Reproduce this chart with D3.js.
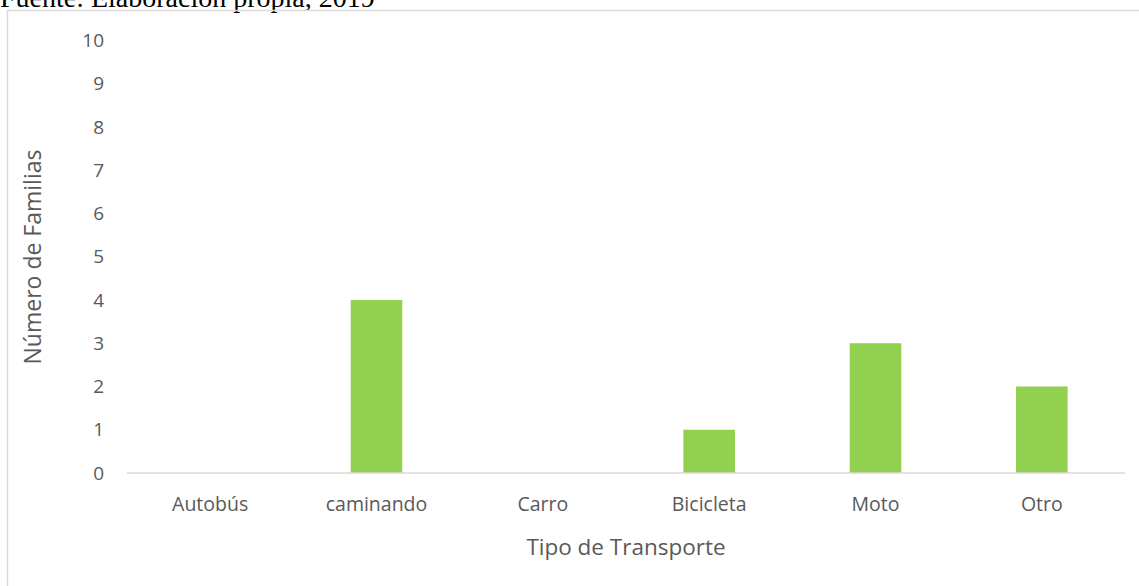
<!DOCTYPE html>
<html>
<head>
<meta charset="utf-8">
<script src="https://cdn.jsdelivr.net/npm/d3@7"></script>
<style>
  body { margin: 0; background: #fff; }
  svg { display: block; }
</style>
</head>
<body>
<svg id="chart"></svg>
<script>
// data
const categories = ["Autobús", "caminando", "Carro", "Bicicleta", "Moto", "Otro"];
const familias = [0, 4, 0, 1, 3, 2];
const yTicks = [0, 1, 2, 3, 4, 5, 6, 7, 8, 9, 10];

const W = 1139, H = 586;
const margin = {top: 40.5, right: 14, bottom: 113, left: 127};

const svg = d3.select("#chart").attr("width", W).attr("height", H);

// caption above the chart frame (cut off at top like the source)
svg.append("text")
    .attr("x", 0).attr("y", 7)
    .style("font-family", "'Liberation Serif', 'Times New Roman', serif")
    .style("font-size", "28px")
    .attr("fill", "#000")
    .text("Fuente: Elaboración propia, 2019");

// chart frame
svg.append("rect")
    .attr("x", 7.5).attr("y", 10.5)
    .attr("width", W).attr("height", H)
    .attr("fill", "none")
    .attr("stroke", "#d9d9d9")
    .attr("stroke-width", 1.5);

const x = d3.scaleBand()
    .domain(categories)
    .range([margin.left, W - margin.right])
    .paddingInner(0.69).paddingOuter(0.345);

const y = d3.scaleLinear()
    .domain([0, 10])
    .range([H - margin.bottom, margin.top]);

const font = "'Open Sans', 'Noto Sans', sans-serif";

// bars
svg.append("g")
  .selectAll("rect")
  .data(categories.map((c, i) => ({cat: c, val: familias[i]})).filter(d => d.val > 0))
  .join("rect")
    .attr("x", d => x(d.cat))
    .attr("y", d => y(d.val))
    .attr("width", x.bandwidth())
    .attr("height", d => y(0) - y(d.val))
    .attr("fill", "#92d050");

// baseline
svg.append("line")
    .attr("x1", margin.left).attr("x2", W - margin.right)
    .attr("y1", y(0)).attr("y2", y(0))
    .attr("stroke", "#d9d9d9").attr("stroke-width", 1.5);

// y tick labels
svg.append("g")
  .selectAll("text")
  .data(yTicks)
  .join("text")
    .attr("x", 104)
    .attr("y", d => y(d))
    .attr("dy", "0.35em")
    .attr("text-anchor", "end")
    .style("font-family", font)
    .style("font-size", "19px")
    .attr("fill", "#595959")
    .text(d => d);

// x tick labels
svg.append("g")
  .selectAll("text")
  .data(categories)
  .join("text")
    .attr("x", d => x(d) + x.bandwidth() / 2)
    .attr("y", 504)
    .attr("dy", "0.35em")
    .attr("text-anchor", "middle")
    .style("font-family", font)
    .style("font-size", "19.5px")
    .attr("fill", "#595959")
    .text(d => d);

// axis titles
svg.append("text")
    .attr("x", 626).attr("y", 547)
    .attr("dy", "0.35em")
    .attr("text-anchor", "middle")
    .style("font-family", font)
    .style("font-size", "22.5px")
    .attr("fill", "#595959")
    .text("Tipo de Transporte");

svg.append("text")
    .attr("transform", "translate(33,257) rotate(-90)")
    .attr("dy", "0.35em")
    .attr("text-anchor", "middle")
    .style("font-family", font)
    .style("font-size", "23px")
    .attr("fill", "#595959")
    .text("Número de Familias");
</script>
</body>
</html>
